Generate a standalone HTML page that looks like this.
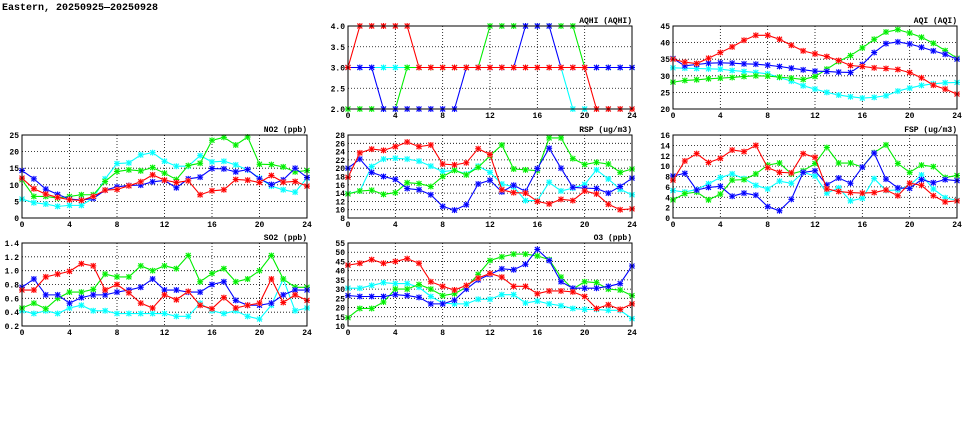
<!DOCTYPE html>
<html><head><meta charset="utf-8"><style>
html,body{margin:0;padding:0;background:#fff;width:975px;height:447px;overflow:hidden}
svg{display:block}
text{font-family:"Liberation Mono",monospace;font-weight:bold;fill:#000}
</style></head><body>
<svg id="chart" width="975" height="447" viewBox="0 0 975 447" xmlns="http://www.w3.org/2000/svg">
<text x="2" y="10" font-size="10">Eastern, 20250925—20250928</text>
</svg>
<script>
const hours = [0,1,2,3,4,5,6,7,8,9,10,11,12,13,14,15,16,17,18,19,20,21,22,23,24];
const xTicks = [0,4,8,12,16,20,24];
const seriesNames = ['cyan','green','blue','red'];

const aqhiRed   = [3,4,4,4,4,4,3,3,3,3,3,3,3,3,3,3,3,3,3,3,3,2,2,2,2];
const aqhiGreen = [2,2,2,2,2,3,3,3,3,3,3,3,4,4,4,4,4,4,4,4,3,3,3,3,3];
const aqhiBlue  = [3,3,3,2,2,2,2,2,2,2,3,3,3,3,3,4,4,4,3,3,3,3,3,3,3];
const aqhiCyan  = [3,3,3,3,3,3,3,3,3,3,3,3,3,3,3,3,3,3,3,2,2,2,2,2,2];
const aqhiTicks = [2,2.5,3,3.5,4];

const aqiRed   = [35,34.1,33.7,35.3,37,38.7,40.7,42.2,42.2,41,39.2,37.5,36.6,35.8,34.6,33.1,32.8,32.4,32.2,31.9,31,29.4,27.2,26,24.5];
const aqiGreen = [28.1,28.6,28.8,29.1,29.3,29.5,29.8,30,29.9,29.6,29.3,28.9,29.8,32,34.3,36.1,38.4,41,43.2,43.9,42.9,41.6,39.8,37.6,35.3];
const aqiBlue  = [35.2,33,33.4,33.8,33.9,33.8,33.6,33.5,33.2,32.8,32.3,31.8,31.4,31.3,31.1,31,33.4,37,39.7,40.2,39.6,38.6,37.5,36.5,35];
const aqiCyan  = [32.4,32.3,32.2,32.1,32,31.6,31.3,31,30.6,29.5,28.4,27,26,25,24.2,23.7,23.3,23.5,24,25.4,26.3,27.1,27.6,27.9,28];
const aqiTicks = [20,25,30,35,40,45];

const no2Red   = [12,8.8,7.2,6.2,5.5,5.3,6.5,8.4,8.6,9.7,10.9,13,11.4,10.7,11.2,7,8.2,8.5,11.6,11.4,10.7,12.8,10.8,11,9.6];
const no2Green = [11.5,6.5,6.5,6,6.5,7,7,11,14,14.5,14.2,15.2,13.5,11.6,15.8,16.5,23.4,24.3,22,24.4,16.2,16.1,15.4,13.9,14.3];
const no2Blue  = [14.3,11.8,8.7,7.1,5.7,5.4,5.9,8.4,9.4,9.8,9.9,10.9,11.3,9.1,11.8,12.3,14.9,14.8,13.9,14.6,11.8,10.1,11.5,15,12.2];
const no2Cyan  = [5.7,4.6,4.2,3.5,3.8,3.8,6,11.8,16.4,16.6,19,19.7,17.1,15.6,15.6,18.8,16.9,17.1,16,14.5,12,9.6,8.5,7.8,12];
const no2Ticks = [0,5,10,15,20,25];

const rspRed   = [17.8,23.7,24.6,24.3,25.2,26.3,25.2,25.6,21,20.8,21.3,24.7,23.3,14.8,14.1,14,12,11.4,12.5,12.2,14.5,13.8,11.3,10,10.2];
const rspGreen = [13.8,14.5,14.7,13.7,14.1,16.5,16.3,15.6,18,19.5,18.4,20.2,23,25.6,19.8,19.6,19.4,27.3,27.3,22.3,20.9,21.4,21,19,19.8];
const rspBlue  = [20,22.2,19,18,17.3,15.1,14.8,13.6,10.8,9.9,11.2,16.2,17.1,14.3,15.9,14.4,19.9,24.8,20,15.4,15.2,15.1,14,15.6,17.6];
const rspCyan  = [13.9,14.5,20.4,22.2,22.4,22.2,21.7,20.5,19.2,19.5,18.6,20.5,19,16.2,15.5,12.2,12.2,16.6,14.5,15.2,16.1,19.6,17.4,14.9,13.6];
const rspTicks = [8,10,12,14,16,18,20,22,24,26,28];

const fspRed   = [7.3,11,12.4,10.7,11.5,13.1,12.8,14,9.7,8.8,8.7,12.4,11.7,5.6,5.1,4.9,4.8,4.9,5.4,4.3,6.7,6.3,4.3,3.1,3.3];
const fspGreen = [3.5,4.7,5,3.5,4.6,7.3,7.4,8.5,10.2,10.6,8.5,9.1,10.5,13.6,10.6,10.6,9.8,12.6,14.1,10.5,8.8,10.2,9.9,7.8,8.2];
const fspBlue  = [8.1,8.6,5.4,5.9,6.1,4.2,4.8,4.4,2.2,1.4,3.6,8.8,9.1,6.4,7.7,6.7,9.8,12.5,7.5,5.8,5.7,7.4,6.8,7.4,7.2];
const fspCyan  = [5.3,5,5.5,6.6,7.8,8.5,7.6,6.3,5.6,7.1,6.7,8.8,8.1,4.8,5.8,3.3,3.8,7.6,5.3,5.4,6.3,8.3,5.6,3.9,3.4];
const fspTicks = [0,2,4,6,8,10,12,14,16];

const so2Red   = [0.72,0.72,0.91,0.95,0.99,1.1,1.07,0.72,0.8,0.68,0.53,0.46,0.65,0.58,0.7,0.5,0.45,0.61,0.46,0.5,0.53,0.88,0.54,0.65,0.57];
const so2Green = [0.46,0.53,0.45,0.6,0.69,0.69,0.73,0.95,0.91,0.91,1.07,1,1.07,1.03,1.22,0.84,0.96,1.03,0.84,0.88,1,1.22,0.88,0.76,0.76];
const so2Blue  = [0.76,0.88,0.65,0.65,0.53,0.61,0.65,0.65,0.69,0.72,0.76,0.88,0.72,0.72,0.69,0.69,0.8,0.84,0.57,0.5,0.5,0.53,0.65,0.72,0.72];
const so2Cyan  = [0.42,0.38,0.42,0.38,0.46,0.5,0.42,0.42,0.38,0.38,0.38,0.38,0.38,0.34,0.34,0.53,0.42,0.38,0.42,0.34,0.3,0.5,0.88,0.42,0.46];
const so2Ticks = [0.2,0.4,0.6,0.8,1.0,1.2,1.4];

const o3Red   = [43,44,46,44,45,46.5,44,34,31.5,29.5,32,36,38.5,36.5,31.5,31.5,27.5,29,29,28.5,26,19.5,21.5,19,22];
const o3Green = [14.5,19.5,19.5,23,30,30,32.5,30,26.5,27.5,31,38,45.5,47.5,49,49,48,46,36.5,30,34,33.5,30,29.5,26.5];
const o3Blue  = [26.5,26,26,26,27,26.5,25.5,22,22,24,30,35,38,41,40.5,43.5,51.5,45.5,34,30.5,30.5,30.5,31.5,33,42.5];
const o3Cyan  = [30.5,30.5,32,33.5,33,33,31,26,22.5,22,22,24.5,24.5,27,27,22.5,23.5,22,21,19.5,19,19,18.5,18.5,14];
const o3Ticks = [10,15,20,25,30,35,40,45,50,55];

const NS = 'http://www.w3.org/2000/svg';
const svg = document.getElementById('chart');
const colors = {cyan:'#00ffff',green:'#00ee00',blue:'#0000ff',red:'#ff0000'};
const halos = {cyan:'#bbffff',green:'#bbffbb',blue:'#bbbbff',red:'#ffbbbb'};

function mk(tag, attrs, parent){
  const e = document.createElementNS(NS, tag);
  for (const k in attrs) e.setAttribute(k, attrs[k]);
  (parent||svg).appendChild(e);
  return e;
}

function panel(key, title, L, T, W, H, ticks, dec, series){
  const g = mk('g', {});
  
  
  const ymin = ticks[0], ymax = ticks[ticks.length-1];
  const sx = h => L + h / 24 * W;
  const sy = v => T + H - (v - ymin) / (ymax - ymin) * H;
  xTicks.forEach(t => {
    if (t > 0 && t < 24) {
      const l = mk('line', {x1:sx(t), x2:sx(t), y1:T, y2:T+H, stroke:'#000', 'stroke-width':0.8, 'stroke-dasharray':'1,2'}, g);
      
      
    }
    const tx = mk('text', {x:sx(t), y:T+H+9, 'font-size':8, 'text-anchor':'middle'}, g);
    tx.textContent = t;
    
    
  });
  ticks.forEach(v => {
    if (v > ymin && v < ymax) {
      const l = mk('line', {x1:L, x2:L+W, y1:sy(v), y2:sy(v), stroke:'#000', 'stroke-width':0.8, 'stroke-dasharray':'1,2'}, g);
      
      
    }
    const tx = mk('text', {x:L-3, y:sy(v)+3, 'font-size':8, 'text-anchor':'end'}, g);
    tx.textContent = v.toFixed(dec);
    
    
  });
  seriesNames.forEach((name, i) => {
    const vals = series[i];
    const sg = mk('g', {}, g);
    
    
    const pts = vals.map((v, h) => sx(hours[h]) + ',' + sy(v)).join(' ');
    mk('polyline', {points:pts, fill:'none', stroke:colors[name], 'stroke-width':1.1}, sg);
    vals.forEach((v, h) => {
      const x = sx(hours[h]), y = sy(v);
      const m = mk('g', {}, sg);
      
      
      mk('rect', {x:x-2.5, y:y-2.5, width:5, height:5, fill:halos[name]}, m);
      mk('path', {d:`M${x-2.5} ${y-2.5}L${x+2.5} ${y+2.5}M${x-2.5} ${y+2.5}L${x+2.5} ${y-2.5}M${x-3} ${y}H${x+3}M${x} ${y-3}V${y+3}`, stroke:colors[name], 'stroke-width':1}, m);
    });
  });
  const fr = mk('rect', {x:L, y:T, width:W, height:H, fill:'none', stroke:'#000', 'stroke-width':1}, g);
  
  
  const tt = mk('text', {x:L+W, y:T-3, 'font-size':8, 'text-anchor':'end'}, g);
  tt.textContent = title;
  
  
}

panel('aqhi','AQHI (AQHI)',348,26,284,83,aqhiTicks,1,[aqhiCyan,aqhiGreen,aqhiBlue,aqhiRed]);
panel('aqi','AQI (AQI)',673,26,284,83,aqiTicks,0,[aqiCyan,aqiGreen,aqiBlue,aqiRed]);
panel('no2','NO2 (ppb)',22,135,285,83,no2Ticks,0,[no2Cyan,no2Green,no2Blue,no2Red]);
panel('rsp','RSP (ug/m3)',348,135,284,83,rspTicks,0,[rspCyan,rspGreen,rspBlue,rspRed]);
panel('fsp','FSP (ug/m3)',673,135,284,83,fspTicks,0,[fspCyan,fspGreen,fspBlue,fspRed]);
panel('so2','SO2 (ppb)',22,243,285,83,so2Ticks,1,[so2Cyan,so2Green,so2Blue,so2Red]);
panel('o3','O3 (ppb)',348,243,284,83,o3Ticks,0,[o3Cyan,o3Green,o3Blue,o3Red]);
</script>
</body></html>
